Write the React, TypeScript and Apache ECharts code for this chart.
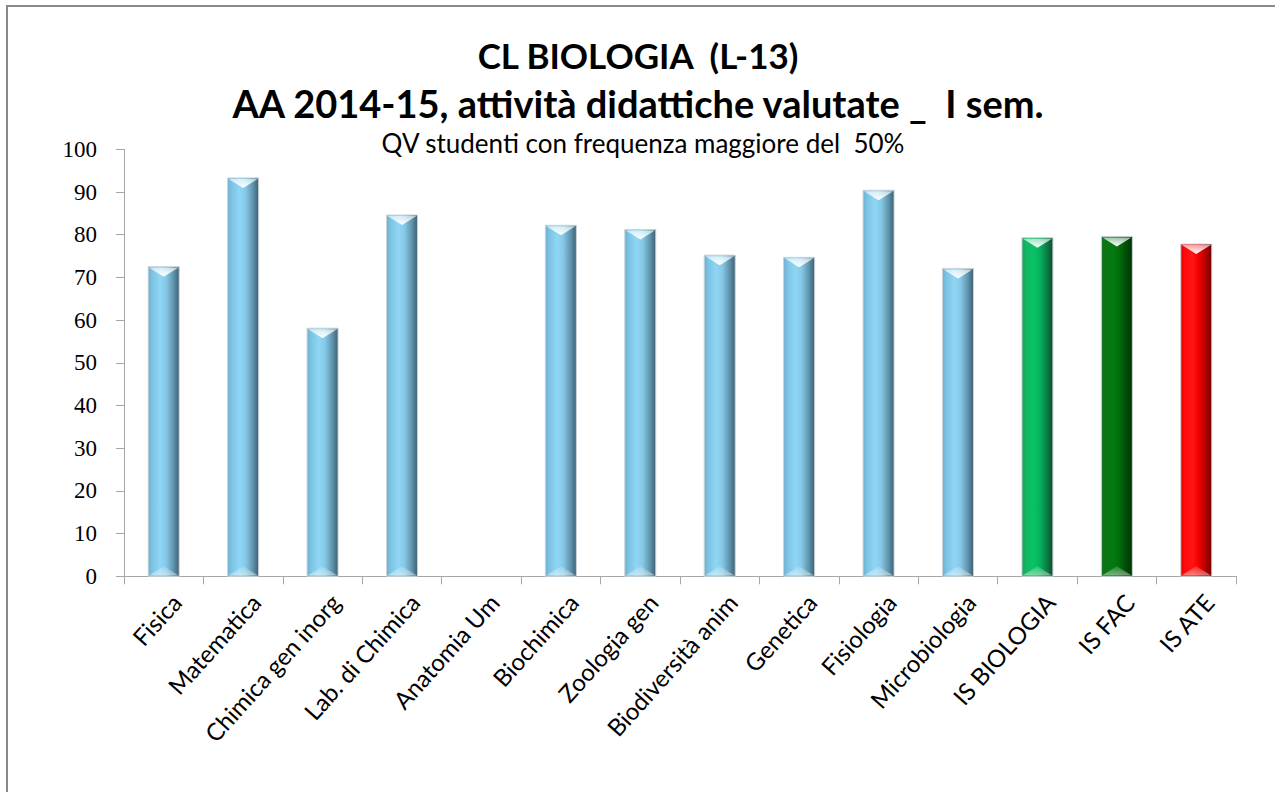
import React, { useEffect, useRef } from "react";
import * as echarts from "echarts";

const categories = [
  "Fisica",
  "Matematica",
  "Chimica gen inorg",
  "Lab. di Chimica",
  "Anatomia Um",
  "Biochimica",
  "Zoologia gen",
  "Biodiversità anim",
  "Genetica",
  "Fisiologia",
  "Microbiologia",
  "IS BIOLOGIA",
  "IS FAC",
  "IS ATE",
];
const values: (number | null)[] = [72.5, 93.3, 58.1, 84.6, null, 82.2, 81.2, 75.2, 74.7, 90.4, 72.1, 79.3, 79.6, 77.8];
const barKinds = ["blue", "blue", "blue", "blue", "blue", "blue", "blue", "blue", "blue", "blue", "blue", "green", "darkgreen", "red"];
const yTicks = { min: 0, max: 100, interval: 10 };
const titleLines = ["CL BIOLOGIA  (L-13)", "AA 2014-15, attività didattiche valutate _  I sem."];
const subtitle = "QV studenti con frequenza maggiore del  50%";

const palettes: Record<string, string[]> = {
  blue: ["#6AAFCF", "#7CC3E3", "#8FD6F5", "#86C8E6", "#5E93AC", "#3E5F70"],
  green: ["#1C9E5A", "#11B562", "#07C464", "#06B25C", "#0B7A44", "#134A30"],
  darkgreen: ["#1D6E26", "#0A7514", "#037A10", "#026C0C", "#014A06", "#013300"],
  red: ["#D80000", "#FF0A0A", "#FF1414", "#F00000", "#B00000", "#6A0000"],
};

export default function App() {
  const ref = useRef<HTMLDivElement>(null);
  useEffect(() => {
    if (!ref.current) return;
    const chart = echarts.init(ref.current, null, { renderer: "svg" });
    const stopsAt = [0, 0.12, 0.38, 0.58, 0.82, 1];
    const option: any = {
      animation: false,
      backgroundColor: "#ffffff",
      graphic: [
        {
          type: "rect",
          shape: { x: 7, y: 6, width: 1320, height: 840 },
          style: { fill: "none", stroke: "#8a8a8a", lineWidth: 2 },
          silent: true,
        },
        {
          type: "text",
          x: 638,
          y: 55,
          style: {
            text: titleLines[0],
            fontFamily: "Lato",
            fontWeight: "bold",
            fontSize: 35,
            fill: "#000",
            textAlign: "center",
            textVerticalAlign: "middle",
          },
        },
        {
          type: "text",
          x: 638,
          y: 103,
          style: {
            text: titleLines[1],
            fontFamily: "Lato",
            fontWeight: "bold",
            fontSize: 38,
            fill: "#000",
            textAlign: "center",
            textVerticalAlign: "middle",
          },
        },
        {
          type: "text",
          x: 643,
          y: 143,
          style: {
            text: subtitle,
            fontFamily: "Lato",
            fontSize: 26,
            fill: "#000",
            textAlign: "center",
            textVerticalAlign: "middle",
          },
        },
      ],
      grid: { left: 124, right: 39, top: 149.3, bottom: 215.7 },
      xAxis: {
        type: "category",
        data: categories,
        boundaryGap: true,
        axisLine: { show: true, lineStyle: { color: "#a6a6a6", width: 1 } },
        axisTick: { show: true, alignWithLabel: false, length: 8, lineStyle: { color: "#a6a6a6" } },
        axisLabel: {
          interval: 0,
          rotate: 48,
          margin: 10,
          verticalAlign: "top",
          padding: [5, 0, 0, 0],
          fontFamily: "Lato",
          fontSize: 24,
          color: "#000",
        },
      },
      yAxis: {
        type: "value",
        min: yTicks.min,
        max: yTicks.max,
        interval: yTicks.interval,
        axisLine: { show: true, lineStyle: { color: "#a6a6a6", width: 1 } },
        axisTick: { show: true, length: 8, lineStyle: { color: "#a6a6a6" } },
        splitLine: { show: false },
        axisLabel: {
          margin: 27,
          fontFamily: "Liberation Serif",
          fontSize: 23,
          color: "#000",
        },
      },
      series: [
        {
          type: "custom",
          data: values.map((v, i) => [i, v]),
          encode: { x: 0, y: 1 },
          renderItem: (params: any, api: any) => {
            const idx = api.value(0);
            const val = api.value(1);
            if (val == null || isNaN(val)) return null;
            const top = api.coord([idx, val]);
            const base = api.coord([idx, 0]);
            const w = api.size([1, 0])[0] * 0.39;
            const x = top[0] - w / 2;
            const y = top[1];
            const h = base[1] - top[1];
            const cx = top[0];
            const pal = palettes[barKinds[idx]];
            const grad = new echarts.graphic.LinearGradient(
              0, 0, 1, 0,
              pal.map((c, k) => ({ offset: stopsAt[k], color: c }))
            );
            const bev = 9;
            return {
              type: "group",
              children: [
                {
                  type: "rect",
                  shape: { x, y, width: w, height: h },
                  style: { fill: grad, stroke: "#c9d3d8", lineWidth: 1 },
                },
                {
                  type: "polygon",
                  shape: { points: [[x + 1, y + 1], [x + w - 1, y + 1], [cx, y + bev + 1]] },
                  style: {
                    fill: new echarts.graphic.LinearGradient(0, 0, 0, 1, [
                      { offset: 0, color: "rgba(255,255,255,0.6)" },
                      { offset: 1, color: "rgba(255,255,255,1)" },
                    ]),
                  },
                },
                {
                  type: "polygon",
                  shape: { points: [[x + 1, base[1] - 1], [x + w - 1, base[1] - 1], [cx, base[1] - bev - 1]] },
                  style: {
                    fill: new echarts.graphic.LinearGradient(0, 0, 0, 1, [
                      { offset: 0, color: "rgba(255,255,255,0.15)" },
                      { offset: 1, color: "rgba(255,255,255,0.45)" },
                    ]),
                  },
                },
              ],
            };
          },
        },
      ],
    };
    chart.setOption(option);
    return () => chart.dispose();
  }, []);
  return (
    <div
      ref={ref}
      style={{ position: "absolute", left: 0, top: 0, width: 1275, height: 792 }}
    />
  );
}
